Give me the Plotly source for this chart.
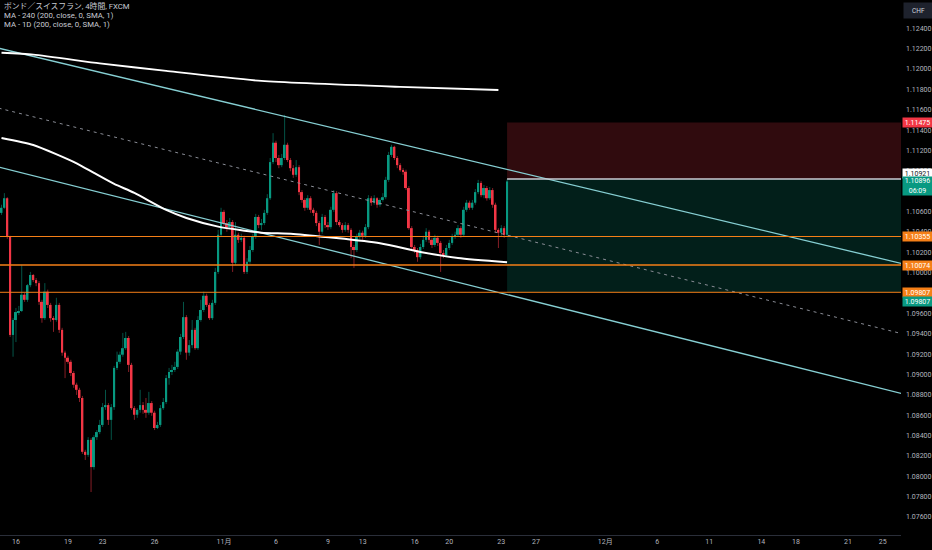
import plotly.graph_objects as go

# --- Data: GBP/CHF 4h candles (bar index 0 .. 175) ---
first_open = 1.10587

closes = [
    1.10637, 1.10731, 1.10352, 1.09388, 1.09535, 1.09613, 1.09623, 1.09783, 1.09733, 1.09877,
    1.09977, 1.09927, 1.09897, 1.09713, 1.09553, 1.09813, 1.09683, 1.09553, 1.09535, 1.09683,
    1.09438, 1.09214, 1.09164, 1.09124, 1.09014, 1.08899, 1.08849, 1.08769, 1.08240, 1.08210,
    1.08357, 1.08090, 1.08384, 1.08434, 1.08504, 1.08679, 1.08699, 1.08554, 1.08679, 1.09064,
    1.09124, 1.09194, 1.09258, 1.09358, 1.09094, 1.08669, 1.08604, 1.08652, 1.08699, 1.08652,
    1.08624, 1.08719, 1.08624, 1.08474, 1.08504, 1.08669, 1.08729, 1.08964, 1.09024, 1.09044,
    1.09074, 1.09224, 1.09368, 1.09563, 1.09214, 1.09288, 1.09438, 1.09258, 1.09535, 1.09633,
    1.09773, 1.09683, 1.09553, 1.09703, 1.10007, 1.10372, 1.10597, 1.10487, 1.10447, 1.10497,
    1.10097, 1.10372, 1.10322, 1.10342, 1.10007, 1.10107, 1.10222, 1.10352, 1.10547, 1.10467,
    1.10487, 1.10587, 1.10731, 1.11086, 1.11276, 1.11126, 1.11056, 1.11126, 1.11256, 1.11106,
    1.11026, 1.10961, 1.11036, 1.10791, 1.10714, 1.10637, 1.10731, 1.10617, 1.10587, 1.10487,
    1.10402, 1.10547, 1.10467, 1.10447, 1.10617, 1.10781, 1.10497, 1.10467, 1.10420, 1.10467,
    1.10420, 1.10252, 1.10222, 1.10352, 1.10392, 1.10362, 1.10447, 1.10731, 1.10687, 1.10731,
    1.10667, 1.10714, 1.10741, 1.10911, 1.11156, 1.11236, 1.11126, 1.11056, 1.11006, 1.10991,
    1.10831, 1.10437, 1.10252, 1.10222, 1.10152, 1.10252, 1.10322, 1.10402, 1.10322, 1.10272,
    1.10342, 1.10292, 1.10192, 1.10172, 1.10242, 1.10292, 1.10352, 1.10372, 1.10437, 1.10372,
    1.10617, 1.10687, 1.10637, 1.10687, 1.10791, 1.10881, 1.10761, 1.10831, 1.10731, 1.10811,
    1.10667, 1.10420, 1.10392, 1.10437, 1.10372, 1.10896,
]

highs = [
    1.10667, 1.10781, 1.10741, 1.10362, 1.09553, 1.09653, 1.09673, 1.10077, 1.09803, 1.09887,
    1.10007, 1.09987, 1.09947, 1.09917, 1.09733, 1.09897, 1.09833, 1.09703, 1.09573, 1.09753,
    1.09703, 1.09458, 1.09234, 1.09184, 1.09144, 1.09034, 1.08919, 1.08869, 1.08789, 1.08260,
    1.08384, 1.08374, 1.08404, 1.08454, 1.08554, 1.08719, 1.08849, 1.08719, 1.08709, 1.09084,
    1.09224, 1.09224, 1.09408, 1.09418, 1.09378, 1.09114, 1.08689, 1.08669, 1.08849, 1.08729,
    1.08769, 1.08829, 1.08739, 1.08644, 1.08534, 1.08699, 1.08769, 1.08994, 1.09064, 1.09094,
    1.09124, 1.09248, 1.09398, 1.09713, 1.09583, 1.09338, 1.09535, 1.09458, 1.09573, 1.09733,
    1.09813, 1.09793, 1.09703, 1.09733, 1.10047, 1.10420, 1.10637, 1.10617, 1.10517, 1.10537,
    1.10517, 1.10497, 1.10392, 1.10382, 1.10362, 1.10142, 1.10262, 1.10382, 1.10577, 1.10567,
    1.10527, 1.10617, 1.10771, 1.11126, 1.11370, 1.11296, 1.11156, 1.11166, 1.11550, 1.11276,
    1.11126, 1.11056, 1.11106, 1.11056, 1.10811, 1.10731, 1.10761, 1.10751, 1.10637, 1.10607,
    1.10507, 1.10577, 1.10567, 1.10497, 1.10647, 1.10811, 1.10801, 1.10517, 1.10487, 1.10497,
    1.10487, 1.10437, 1.10272, 1.10382, 1.10420, 1.10412, 1.10477, 1.10761, 1.10751, 1.10761,
    1.10741, 1.10731, 1.10781, 1.10941, 1.11186, 1.11256, 1.11246, 1.11146, 1.11076, 1.11026,
    1.11011, 1.10851, 1.10457, 1.10272, 1.10242, 1.10282, 1.10362, 1.10437, 1.10420, 1.10342,
    1.10372, 1.10362, 1.10312, 1.10222, 1.10272, 1.10322, 1.10382, 1.10402, 1.10467, 1.10457,
    1.10647, 1.10714, 1.10707, 1.10714, 1.10821, 1.10911, 1.10901, 1.10861, 1.10851, 1.10841,
    1.10831, 1.10687, 1.10437, 1.10467, 1.10457, 1.10916,
]

lows = [
    1.10567, 1.10627, 1.10332, 1.09368, 1.09174, 1.09318, 1.09583, 1.09613, 1.09713, 1.09713,
    1.09857, 1.09907, 1.09867, 1.09683, 1.09508, 1.09535, 1.09653, 1.09518, 1.09418, 1.09518,
    1.09408, 1.09184, 1.08964, 1.09104, 1.08984, 1.08869, 1.08799, 1.08729, 1.08220, 1.08160,
    1.08190, 1.07845, 1.08065, 1.08357, 1.08414, 1.08484, 1.08652, 1.08504, 1.08357, 1.08652,
    1.09044, 1.09104, 1.09174, 1.09241, 1.09024, 1.08652, 1.08554, 1.08574, 1.08624, 1.08614,
    1.08574, 1.08604, 1.08594, 1.08454, 1.08464, 1.08484, 1.08652, 1.08709, 1.08899, 1.08994,
    1.09024, 1.09054, 1.09194, 1.09348, 1.09144, 1.09184, 1.09258, 1.09241, 1.09241, 1.09518,
    1.09613, 1.09663, 1.09535, 1.09535, 1.09683, 1.09987, 1.10352, 1.10457, 1.10402, 1.10427,
    1.10007, 1.10077, 1.10292, 1.10302, 1.09987, 1.09987, 1.10087, 1.10202, 1.10332, 1.10437,
    1.10420, 1.10467, 1.10567, 1.10714, 1.11066, 1.11086, 1.11026, 1.11036, 1.11106, 1.11086,
    1.10996, 1.10931, 1.10941, 1.10761, 1.10687, 1.10607, 1.10617, 1.10587, 1.10557, 1.10457,
    1.10272, 1.10382, 1.10437, 1.10420, 1.10427, 1.10597, 1.10467, 1.10447, 1.10392, 1.10402,
    1.10392, 1.10142, 1.10047, 1.10202, 1.10332, 1.10322, 1.10342, 1.10427, 1.10657, 1.10667,
    1.10637, 1.10647, 1.10697, 1.10721, 1.10891, 1.11136, 1.11106, 1.11026, 1.10991, 1.10961,
    1.10811, 1.10420, 1.10222, 1.10192, 1.10107, 1.10132, 1.10232, 1.10302, 1.10292, 1.10242,
    1.10252, 1.10262, 1.10007, 1.10142, 1.10152, 1.10222, 1.10272, 1.10332, 1.10352, 1.10342,
    1.10352, 1.10597, 1.10617, 1.10617, 1.10667, 1.10771, 1.10741, 1.10731, 1.10707, 1.10714,
    1.10637, 1.10392, 1.10242, 1.10362, 1.10342, 1.10352,
]

# Moving averages (sampled along the drawn curves)
ma240_idx = [0, 11, 26, 32, 39, 46, 57, 64, 75, 90, 101, 131, 145, 158, 175]
ma240_val = [1.11323, 1.11254, 1.11074, 1.10979, 1.10871, 1.10783, 1.10616, 1.10537,
             1.10452, 1.10393, 1.10380, 1.10289, 1.10203, 1.10144, 1.10102]
ma1d_idx = [0, 11, 34, 57, 90, 138, 172]
ma1d_val = [1.12160, 1.12141, 1.12056, 1.11981, 1.11883, 1.11824, 1.11794]

# Trend channel (two anchors per line)
channel_x = [-1, 312]
channel_upper = [1.12205, 1.10087]
channel_mid = [1.11616, 1.09398]
channel_lower = [1.11038, 1.08809]

# Horizontal levels and position tool
levels = [1.10355, 1.10074, 1.09807]
entry_price = 1.10921
stop_price = 1.11475
target_price = 1.09807
last_price = 1.10896
countdown = "06:09"

# Date axis
tick_pos = [5, 23, 35, 53, 77, 95, 113, 125, 143, 155, 173, 185, 209, 227, 245, 263, 275, 293, 305]
tick_text = ["16", "19", "23", "26", "11月", "6", "9", "13", "16", "20", "23", "27",
             "12月", "6", "11", "14", "18", "21", "25"]

legend_lines = ["ポンド／スイスフラン, 4時間, FXCM",
                "MA - 240 (200, close, 0, SMA, 1)",
                "MA - 1D (200, close, 0, SMA, 1)"]

# --- Styles ---
UP = "#089981"
DOWN = "#f23645"
UP_WICK = "rgba(8,153,129,0.55)"
DOWN_WICK = "rgba(242,54,69,0.55)"
ORANGE = "#f57f17"
CHANNEL = "#86cfd3"
TEXT = "#b2b5be"
FONT = "Roboto, 'Noto Sans CJK JP', sans-serif"

X_MIN, X_MAX = -0.52, 311.35
Y_MIN, Y_MAX = 1.07423, 1.12678

n = len(closes)
idx = list(range(n))
opens = [first_open] + closes[:-1]
is_up = [c >= o for o, c in zip(opens, closes)]

fig = go.Figure()

# wicks (under bodies)
for up, col in [(True, UP_WICK), (False, DOWN_WICK)]:
    wx, wy = [], []
    for i in idx:
        if is_up[i] == up:
            wx += [i, i, None]
            wy += [lows[i], highs[i], None]
    fig.add_trace(go.Scatter(x=wx, y=wy, mode="lines", line=dict(color=col, width=1),
                             hoverinfo="skip"))

# bodies
fig.add_trace(go.Bar(
    x=idx, base=opens, y=[c - o for o, c in zip(opens, closes)],
    width=0.68, marker=dict(color=[UP if u else DOWN for u in is_up], line=dict(width=0)),
    hoverinfo="skip",
))

# channel lines
fig.add_trace(go.Scatter(x=channel_x, y=channel_upper, mode="lines",
                         line=dict(color=CHANNEL, width=1.3)))
fig.add_trace(go.Scatter(x=channel_x, y=channel_lower, mode="lines",
                         line=dict(color=CHANNEL, width=1.3)))
fig.add_trace(go.Scatter(x=channel_x, y=channel_mid, mode="lines",
                         line=dict(color="#8a8d96", width=1, dash="3px,4px")))

# moving averages
fig.add_trace(go.Scatter(x=ma1d_idx, y=ma1d_val, mode="lines",
                         line=dict(color="#ffffff", width=1.8, shape="spline", smoothing=0.6)))
fig.add_trace(go.Scatter(x=ma240_idx, y=ma240_val, mode="lines",
                         line=dict(color="#ffffff", width=2, shape="spline", smoothing=0.6)))

# --- Shapes: position tool + horizontal levels ---
shapes = [
    dict(type="rect", xref="x", yref="y", x0=n - 1, x1=X_MAX, y0=entry_price, y1=stop_price,
         fillcolor="rgba(242,54,69,0.2)", line=dict(width=0), layer="below"),
    dict(type="rect", xref="x", yref="y", x0=n - 1, x1=X_MAX, y0=target_price, y1=entry_price,
         fillcolor="rgba(8,153,129,0.2)", line=dict(width=0), layer="below"),
    dict(type="line", xref="x", yref="y", x0=n - 1, x1=X_MAX, y0=entry_price, y1=entry_price,
         line=dict(color="#c9ccd4", width=1.5), layer="above"),
]
for k, lv in enumerate(levels):
    shapes.append(dict(type="line", xref="paper", yref="y", x0=0, x1=1, y0=lv, y1=lv,
                       line=dict(color=ORANGE, width=1.5 if k == 1 else 1), layer="above"))


def price_tag(y, text, bg, fg, yshift=0, h=9):
    return dict(xref="paper", x=1, xanchor="left", xshift=1, yref="y", y=y, yshift=yshift,
                text=text, showarrow=False, bgcolor=bg, width=29, height=h, borderpad=0,
                align="center", font=dict(family=FONT, size=7, color=fg))


annotations = [
    price_tag(stop_price, f"{stop_price:.5f}", DOWN, "#ffffff"),
    price_tag(entry_price, f"{entry_price:.5f}", "#ffffff", "#131722", yshift=5),
    price_tag(last_price, f"{last_price:.5f}<br>{countdown}", UP, "#ffffff", yshift=-5, h=18),
    price_tag(levels[0], f"{levels[0]:.5f}", ORANGE, "#ffffff"),
    price_tag(levels[1], f"{levels[1]:.5f}", ORANGE, "#ffffff"),
    price_tag(levels[2], f"{levels[2]:.5f}", ORANGE, "#ffffff"),
    price_tag(target_price, f"{target_price:.5f}", UP, "#ffffff", yshift=-9),
    dict(xref="paper", x=1, xanchor="left", xshift=2, yref="paper", y=1, yanchor="top",
         yshift=-2, text="CHF", showarrow=False, bgcolor="#1e222d", width=27, height=13,
         font=dict(family=FONT, size=6.5, color="#d1d4dc")),
]
for k, line in enumerate(legend_lines):
    annotations.append(dict(xref="paper", x=0, xanchor="left", xshift=2, yref="paper", y=1,
                            yanchor="middle", yshift=-6.8 - 8.8 * k, text=line, showarrow=False,
                            height=9, font=dict(family=FONT, size=7.8, color="#c8cbd3")))

fig.update_layout(
    width=932, height=550,
    margin=dict(l=0, r=31, t=0, b=15, autoexpand=False),
    paper_bgcolor="#000000", plot_bgcolor="#000000",
    showlegend=False, hovermode=False,
    font=dict(family=FONT, size=7, color=TEXT),
    shapes=shapes, annotations=annotations,
    xaxis=dict(range=[X_MIN, X_MAX], tickmode="array", tickvals=tick_pos, ticktext=tick_text,
               showgrid=False, zeroline=False, showline=True, linecolor="#2a2e39", linewidth=1,
               ticks="", tickfont=dict(size=7, color=TEXT)),
    yaxis=dict(range=[Y_MIN, Y_MAX], side="right", tick0=1.076, dtick=0.002, tickformat=".5f",
               showgrid=False, zeroline=False, ticks="", ticklabelstandoff=4,
               tickfont=dict(size=7, color=TEXT)),
)

# browsers add an 8px body margin; drop it so the figure fills the window exactly
fig.write_html("out.html", config={"displayModeBar": False},
               post_script="document.body.style.margin='0';"
                           "document.body.style.background='#000';")
